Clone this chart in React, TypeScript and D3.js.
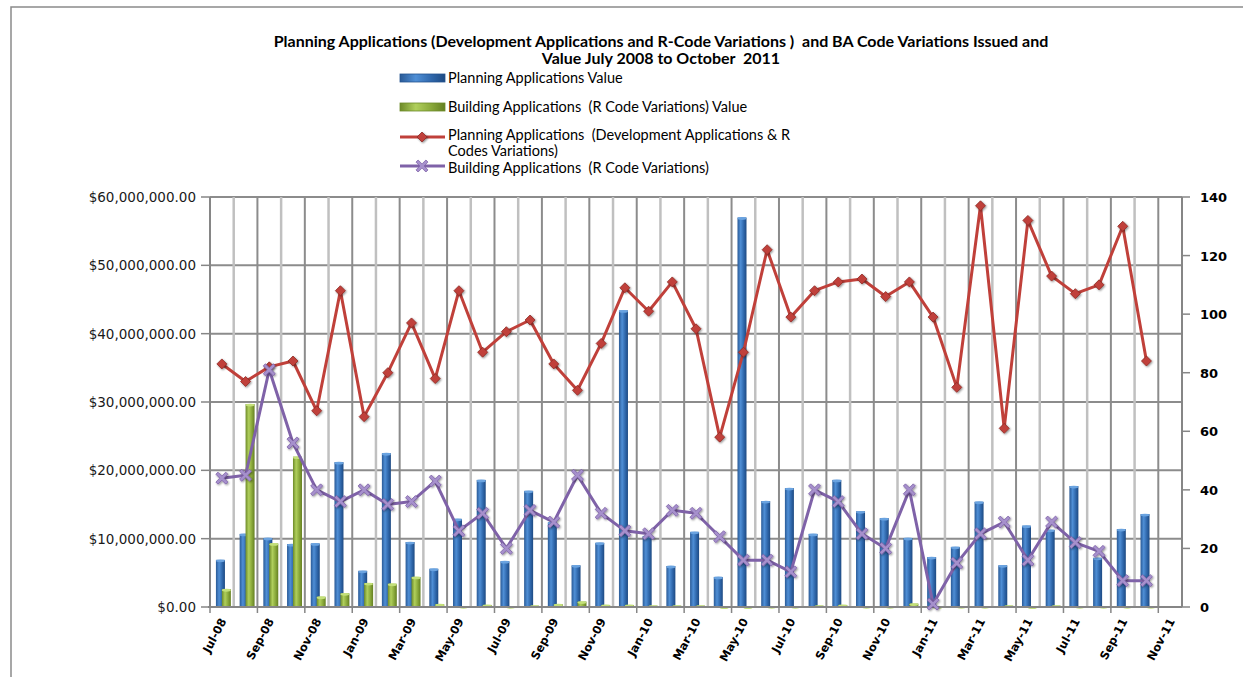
import React from "react";
import * as d3 from "d3";

const months = [
  "Jul-08", "Aug-08", "Sep-08", "Oct-08", "Nov-08", "Dec-08",
  "Jan-09", "Feb-09", "Mar-09", "Apr-09", "May-09", "Jun-09",
  "Jul-09", "Aug-09", "Sep-09", "Oct-09", "Nov-09", "Dec-09",
  "Jan-10", "Feb-10", "Mar-10", "Apr-10", "May-10", "Jun-10",
  "Jul-10", "Aug-10", "Sep-10", "Oct-10", "Nov-10", "Dec-10",
  "Jan-11", "Feb-11", "Mar-11", "Apr-11", "May-11", "Jun-11",
  "Jul-11", "Aug-11", "Sep-11", "Oct-11", "Nov-11",
];

// values in $ millions
const planningValue = [
  6.9, 10.7, 10.1, 9.2, 9.3, 21.2, 5.3, 22.5, 9.5, 5.6, 12.9, 18.6,
  6.7, 17.0, 12.4, 6.1, 9.4, 43.4, 10.4, 6.0, 11.0, 4.4, 57.0, 15.5,
  17.4, 10.7, 18.6, 14.0, 13.0, 10.1, 7.3, 8.8, 15.4, 6.1, 11.9, 11.3,
  17.7, 7.2, 11.4, 13.6,
];
const buildingValue = [
  2.6, 29.7, 9.3, 22.0, 1.5, 2.0, 3.5, 3.4, 4.4, 0.4, 0.1, 0.3,
  0.1, 0.2, 0.4, 0.8, 0.3, 0.3, 0.2, 0.2, 0.2, 0.05, 0.05, 0.1,
  0.1, 0.2, 0.3, 0.1, 0.1, 0.5, 0.05, 0.1, 0.1, 0.2, 0.05, 0.2,
  0.1, 0.1, 0.1, 0.1,
];
const planningCount = [
  83, 77, 82, 84, 67, 108, 65, 80, 97, 78, 108, 87,
  94, 98, 83, 74, 90, 109, 101, 111, 95, 58, 87, 122,
  99, 108, 111, 112, 106, 111, 99, 75, 137, 61, 132, 113,
  107, 110, 130, 84,
];
const buildingCount = [
  44, 45, 81, 56, 40, 36, 40, 35, 36, 43, 26, 32,
  20, 33, 29, 45, 32, 26, 25, 33, 32, 24, 16, 16,
  12, 40, 36, 25, 20, 40, 1, 15, 25, 29, 16, 29,
  22, 19, 9, 9,
];

const leftTicks = [0, 10, 20, 30, 40, 50, 60];
const rightTicks = [0, 20, 40, 60, 80, 100, 120, 140];

const title1 =
  "Planning Applications (Development Applications and R-Code Variations )  and BA Code Variations Issued and";
const title2 = "Value July 2008 to October  2011";

const legendItems = [
  { label: ["Planning Applications Value"], kind: "blue" },
  { label: ["Building Applications  (R Code Variations) Value"], kind: "green" },
  { label: ["Planning Applications  (Development Applications & R", "Codes Variations)"], kind: "red" },
  { label: ["Building Applications  (R Code Variations)"], kind: "purple" },
];

const W = 1243;
const H = 677;
const M = { left: 210, right: 1182, top: 197, bottom: 607 };

const RED = "#c0403a";
const PURPLE = "#7f62a8";

const fmtMoney = (v: number) => "$" + d3.format(",.2f")(v * 1e6);
// keep the doubled spaces of the original text
const keepSpaces = (s: string) => s.replace(/  /g, "\u00a0 ");

const xMark = (cx: number, cy: number, s: number) => {
  const p = d3.path();
  const a = s, b = s * 0.35;
  const pts: [number, number][] = [
    [-a, -a + b], [-a + b, -a], [0, -b], [a - b, -a], [a, -a + b], [b, 0],
    [a, a - b], [a - b, a], [0, b], [-a + b, a], [-a, a - b], [-b, 0],
  ];
  pts.forEach(([x, y], i) => (i ? p.lineTo(cx + x, cy + y) : p.moveTo(cx + x, cy + y)));
  p.closePath();
  return p.toString();
};

const diamond = (cx: number, cy: number, s: number) =>
  `M${cx},${cy - s}L${cx + s},${cy}L${cx},${cy + s}L${cx - s},${cy}Z`;

export default function App() {
  const x = d3.scaleBand<string>().domain(months).range([M.left, M.right]).padding(0);
  const yL = d3.scaleLinear().domain([0, 60]).range([M.bottom, M.top]);
  const yR = d3.scaleLinear().domain([0, 140]).range([M.bottom, M.top]);
  const bw = x.bandwidth();
  const cx = (i: number) => (x(months[i]) as number) + bw / 2;

  const line = d3
    .line<number>()
    .x((_, i) => cx(i))
    .y((d) => yR(d));

  const barW = bw * 0.38;

  return (
    <div style={{ position: "fixed", left: 0, top: 0 }}>
      <svg width={W} height={H} style={{ display: "block", background: "#fff" }}>
        <defs>
          <linearGradient id="gBlue" x1="0" x2="1" y1="0" y2="0">
            <stop offset="0" stopColor="#2a5a96" />
            <stop offset="0.35" stopColor="#4f8fd6" />
            <stop offset="0.7" stopColor="#2f67ab" />
            <stop offset="1" stopColor="#1e4a82" />
          </linearGradient>
          <linearGradient id="gGreen" x1="0" x2="1" y1="0" y2="0">
            <stop offset="0" stopColor="#6d8a28" />
            <stop offset="0.35" stopColor="#b0cf5c" />
            <stop offset="0.7" stopColor="#89a83a" />
            <stop offset="1" stopColor="#647f22" />
          </linearGradient>
          <filter id="sh" x="-50%" y="-50%" width="200%" height="200%">
            <feGaussianBlur in="SourceAlpha" stdDeviation="1.2" />
            <feOffset dx="0.5" dy="1" result="b" />
            <feComponentTransfer><feFuncA type="linear" slope="0.45" /></feComponentTransfer>
            <feMerge><feMergeNode /><feMergeNode in="SourceGraphic" /></feMerge>
          </filter>
        </defs>

        {/* chart border */}
        <path d={`M${W},7H11V${H}`} fill="none" stroke="#8a8a8a" strokeWidth={1.5} />

        {/* title */}
        <g fontFamily="Lato, 'Open Sans', sans-serif" fontWeight="bold" fontSize={16} textAnchor="middle" fill="#000">
          <text x={661} y={47}>{keepSpaces(title1)}</text>
          <text x={661} y={64}>{keepSpaces(title2)}</text>
        </g>

        {/* legend */}
        <g fontFamily="Lato, 'Open Sans', sans-serif" fontSize={14.5} fill="#000">
          {legendItems.map((it, i) => {
            const yy = [78, 107, 135, 168][i];
            return (
              <g key={i}>
                {it.kind === "blue" && (
                  <rect x={400} y={yy - 4} width={45} height={8} fill="url(#gBlue)" stroke="#25548f" strokeWidth={0.8} />
                )}
                {it.kind === "green" && (
                  <rect x={400} y={yy - 4} width={45} height={8} fill="url(#gGreen)" stroke="#6d8a28" strokeWidth={0.8} />
                )}
                {it.kind === "red" && (
                  <>
                    <line x1={400} x2={445} y1={yy + 2} y2={yy + 2} stroke={RED} strokeWidth={3} />
                    <path d={diamond(422, yy + 2, 5)} fill={RED} stroke="#8e2a25" strokeWidth={0.8} filter="url(#sh)" />
                  </>
                )}
                {it.kind === "purple" && (
                  <>
                    <line x1={400} x2={445} y1={yy - 2} y2={yy - 2} stroke={PURPLE} strokeWidth={3} />
                    <path d={xMark(422, yy - 2, 6)} fill="#a690cc" stroke={PURPLE} strokeWidth={0.8} />
                  </>
                )}
                {it.label.map((l, j) => (
                  <text key={j} x={448} y={yy + 5 + j * 16}>{keepSpaces(l)}</text>
                ))}
              </g>
            );
          })}
        </g>

        {/* horizontal gridlines */}
        {leftTicks.map((t) => (
          <line key={t} x1={M.left} x2={M.right} y1={yL(t)} y2={yL(t)} stroke="#8c8c8c" strokeWidth={2} />
        ))}
        {/* vertical gridlines */}
        {months.map((m, i) => {
          const xx = x(m) as number;
          return i === 0 ? null : (
            <line key={m} x1={xx} x2={xx} y1={M.top} y2={M.bottom}
              stroke={i % 2 === 0 ? "#8c8c8c" : "#c0c0c0"} strokeWidth={i % 2 === 0 ? 2 : 2.5} />
          );
        })}

        {/* bars */}
        {planningValue.map((v, i) => (
          <g key={"b" + i}>
            <rect x={(x(months[i]) as number) + bw * 0.25} y={yL(v)} width={barW} height={M.bottom - yL(v)} fill="url(#gBlue)" />
            <ellipse cx={(x(months[i]) as number) + bw * 0.25 + barW / 2} cy={yL(v) + 1} rx={barW / 2} ry={1.4} fill="#6aa3e0" />
          </g>
        ))}
        {buildingValue.map((v, i) => (
          <g key={"g" + i}>
            <rect x={(x(months[i]) as number) + bw * 0.5} y={yL(v)} width={barW} height={M.bottom - yL(v)} fill="url(#gGreen)" />
            <ellipse cx={(x(months[i]) as number) + bw * 0.5 + barW / 2} cy={yL(v) + 1} rx={barW / 2} ry={1.4} fill="#c4e07a" />
          </g>
        ))}

        {/* axes */}
        <line x1={M.left} x2={M.left} y1={M.top} y2={M.bottom} stroke="#868686" strokeWidth={2} />
        <line x1={M.right} x2={M.right} y1={M.top} y2={M.bottom} stroke="#868686" strokeWidth={2} />
        <line x1={M.left - 2} x2={M.right} y1={M.bottom} y2={M.bottom} stroke="#868686" strokeWidth={2} />
        {leftTicks.map((t) => (
          <g key={"lt" + t}>
            <line x1={M.left - 9} x2={M.left} y1={yL(t)} y2={yL(t)} stroke="#868686" strokeWidth={1.5} />
            <text x={M.left - 14} y={yL(t) + 5} textAnchor="end" fontFamily="'DejaVu Sans', Verdana, sans-serif" fontSize={13.5} fill="#1a1a1a">
              {fmtMoney(t)}
            </text>
          </g>
        ))}
        {rightTicks.map((t) => (
          <g key={"rt" + t}>
            <line x1={M.right} x2={M.right + 8} y1={yR(t)} y2={yR(t)} stroke="#868686" strokeWidth={1.5} />
            <text x={M.right + 18} y={yR(t) + 5} fontFamily="'DejaVu Sans', Verdana, sans-serif" fontWeight="bold" fontSize={13} fill="#000">
              {t}
            </text>
          </g>
        ))}
        {months.map((m, i) =>
          i % 2 === 0 ? (
            <g key={"xt" + m}>
              <line x1={x(m) as number} x2={x(m) as number} y1={M.bottom} y2={M.bottom + 6} stroke="#868686" strokeWidth={1.5} />
              <text
                transform={`translate(${cx(i) + 5},${M.bottom + 14}) rotate(-62)`}
                textAnchor="end"
                fontFamily="'DejaVu Sans', Verdana, sans-serif"
                fontWeight="bold"
                fontSize={11.5}
                fill="#000"
              >
                {m}
              </text>
            </g>
          ) : null
        )}

        {/* lines */}
        <path d={line(planningCount) as string} fill="none" stroke={RED} strokeWidth={3} strokeLinejoin="round" />
        {planningCount.map((v, i) => (
          <path key={"rm" + i} d={diamond(cx(i), yR(v), 5)} fill={RED} stroke="#8e2a25" strokeWidth={0.8} filter="url(#sh)" />
        ))}
        <path d={line(buildingCount) as string} fill="none" stroke={PURPLE} strokeWidth={3} strokeLinejoin="round" />
        {buildingCount.map((v, i) => (
          <path key={"pm" + i} d={xMark(cx(i), yR(v), 6)} fill="#a690cc" stroke={PURPLE} strokeWidth={0.8} filter="url(#sh)" />
        ))}
      </svg>
    </div>
  );
}
